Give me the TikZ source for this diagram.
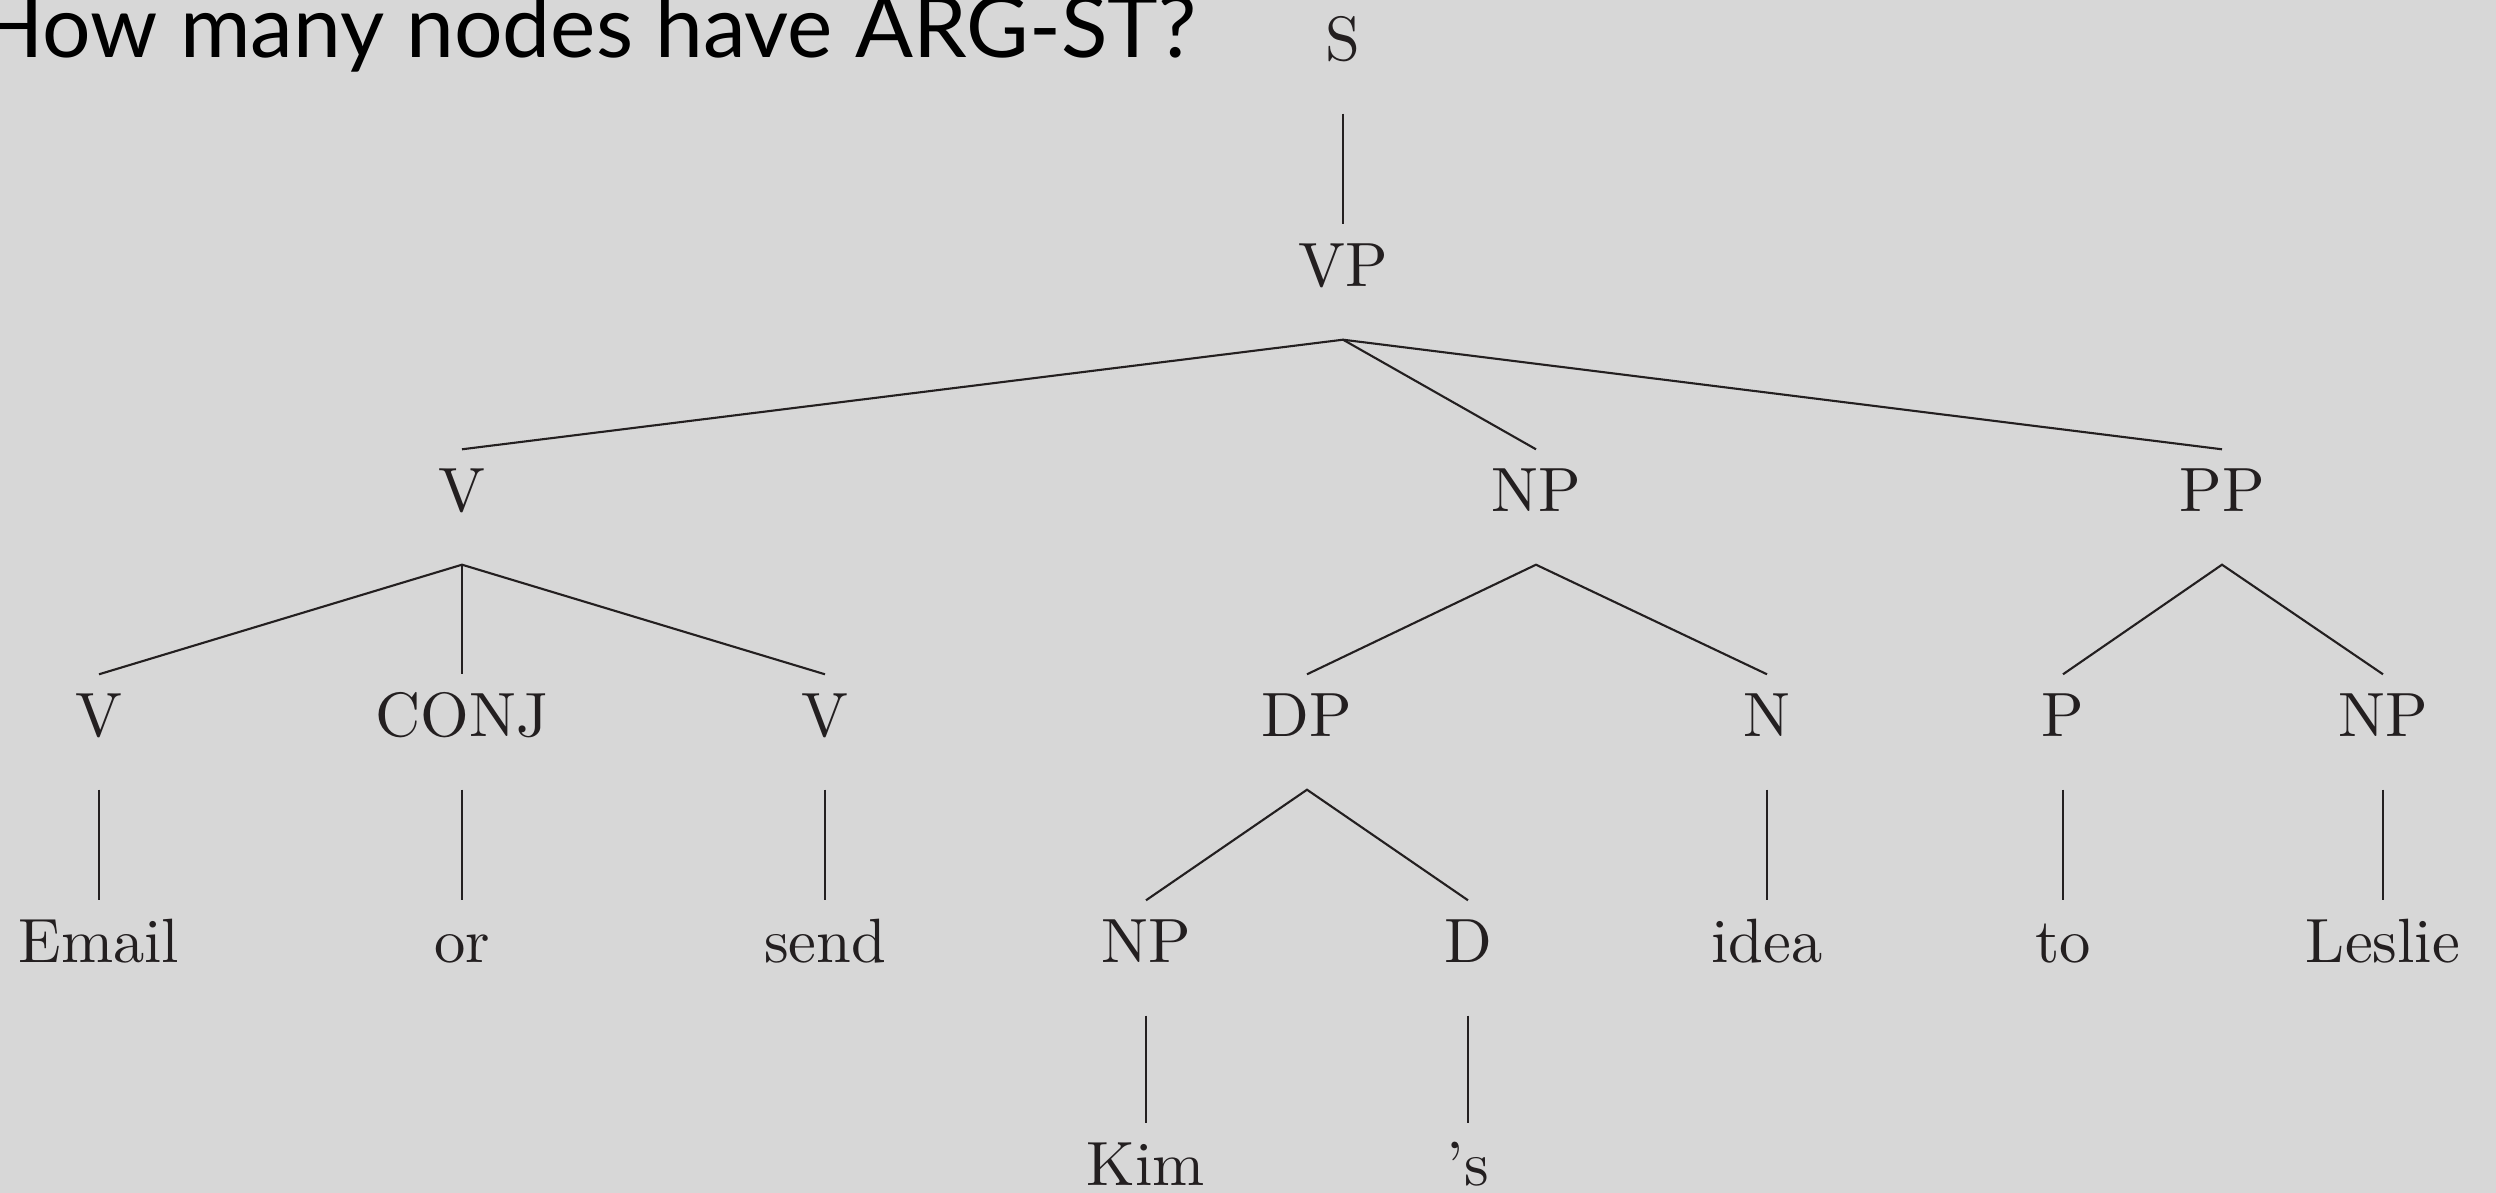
\documentclass[tikz,border=0pt]{standalone}
\usepackage{fontspec}
\newfontfamily\titlefont{Lato}
\newfontfamily\treefont{lmroman10-regular.otf}[Ligatures=TeX]
\usetikzlibrary{positioning}
\definecolor{fondo}{RGB}{215,215,215}
\definecolor{tinta}{RGB}{35,31,32}

\begin{document}
\begin{tikzpicture}[
  cat/.style={anchor=base, text=tinta, font=\treefont\fontsize{17.8}{20}\selectfont,
    inner sep=0pt, text height=0.62cm, text depth=0.52cm},
  rama/.style={draw=tinta, line width=0.6pt},
  titulo/.style={anchor=base west, text=black, inner sep=0pt,
    font=\titlefont\fontsize{24.4}{28}\selectfont},
]
  % ---- Fondo y marco ----
  \fill[fondo] (0,0) rectangle (24.96,-11.93);
  \useasboundingbox (0,0) rectangle (24.96,-11.93);
  \clip (0,0) rectangle (24.96,-11.93);
  % ---- Pregunta ----
  \node[titulo] (pregunta) at (-0.22,-0.58) {How many nodes have ARG-ST?};
  % ---- Raiz ----
  \node[cat] (s)  at (13.43,-0.61) {S};
  \node[cat] (vp) at (13.43,-2.87) {VP};
  % ---- Nivel 2 ----
  \node[cat] (v)  at (4.62,-5.12)  {V};
  \node[cat] (np) at (15.36,-5.12) {NP};
  \node[cat] (pp) at (22.22,-5.12) {PP};
  % ---- Nivel 3 ----
  \node[cat] (va)   at (0.99,-7.37)  {V};
  \node[cat] (conj) at (4.62,-7.37)  {CONJ};
  \node[cat] (vb)   at (8.25,-7.37)  {V};
  \node[cat] (dp)   at (13.07,-7.37) {DP};
  \node[cat] (n)    at (17.67,-7.37) {N};
  \node[cat] (p)    at (20.63,-7.37) {P};
  \node[cat] (npb)  at (23.83,-7.37) {NP};
  % ---- Nivel 4 ----
  \node[cat] (email)  at (0.99,-9.63)  {Email};
  \node[cat] (or)     at (4.62,-9.63)  {or};
  \node[cat] (send)   at (8.25,-9.63)  {send};
  \node[cat] (npa)    at (11.46,-9.63) {NP};
  \node[cat] (d)      at (14.68,-9.63) {D};
  \node[cat] (idea)   at (17.67,-9.63) {idea};
  \node[cat] (to)     at (20.63,-9.63) {to};
  \node[cat] (leslie) at (23.83,-9.63) {Leslie};
  % ---- Nivel 5 ----
  \node[cat] (kim) at (11.46,-11.86) {Kim};
  \node[cat] (pos) at (14.68,-11.86) {’s};
  % ---- Ramas ----
  \draw[rama] (s.south) -- (vp.north);
  \draw[rama] (v.north) -- (vp.south) -- (pp.north);
  \draw[rama] (vp.south) -- (np.north);
  \draw[rama] (va.north) -- (v.south) -- (vb.north);
  \draw[rama] (v.south) -- (conj.north);
  \draw[rama] (dp.north) -- (np.south) -- (n.north);
  \draw[rama] (p.north) -- (pp.south) -- (npb.north);
  \draw[rama] (va.south) -- (email.north);
  \draw[rama] (conj.south) -- (or.north);
  \draw[rama] (vb.south) -- (send.north);
  \draw[rama] (npa.north) -- (dp.south) -- (d.north);
  \draw[rama] (n.south) -- (idea.north);
  \draw[rama] (p.south) -- (to.north);
  \draw[rama] (npb.south) -- (leslie.north);
  \draw[rama] (npa.south) -- (kim.north);
  \draw[rama] (d.south) -- (pos.north);
\end{tikzpicture}
\end{document}
